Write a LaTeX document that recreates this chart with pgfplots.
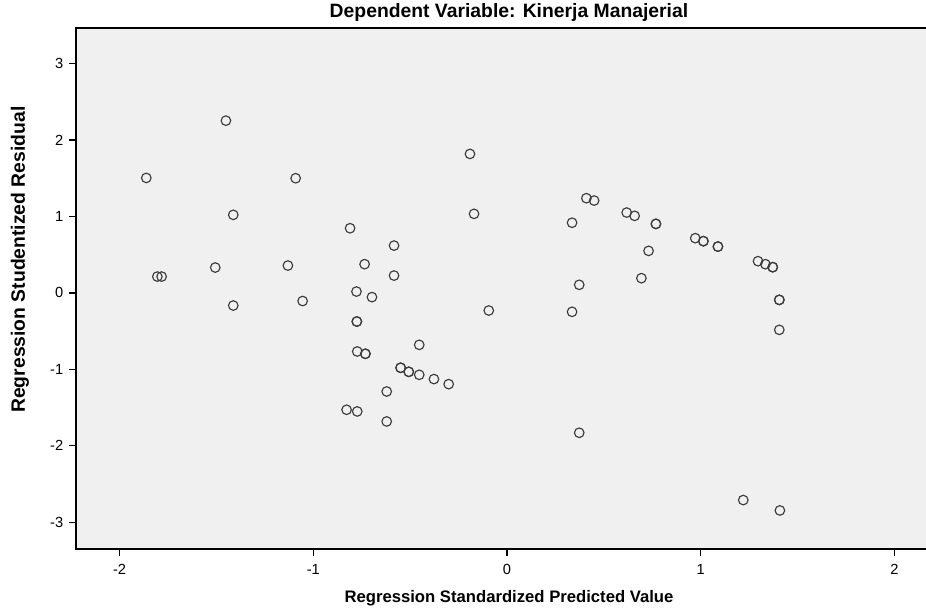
\documentclass[border=0pt]{standalone}
\usepackage{fontspec}
\setmainfont{Liberation Sans}
\usepackage{pgfplots}
\pgfplotsset{compat=1.18}
\definecolor{bg}{HTML}{F0F0F0}
\definecolor{mk}{HTML}{3A3A3A}
\begin{document}
\begin{tikzpicture}
\useasboundingbox (-57pt,-48pt) rectangle (637.5pt,411.75pt);
\begin{axis}[
  at={(0,0)}, anchor=south west,
  scale only axis, width=640pt, height=390.75pt,
  xmin=-2.225, xmax=2.1805, ymin=-3.35, ymax=3.464,
  axis background/.style={fill=bg},
  axis line style={black, line width=0.9pt},
  xtick={-2,-1,0,1,2}, ytick={-3,-2,-1,0,1,2,3},
  xtick pos=bottom, ytick pos=left,
  tick align=outside, major tick length=5pt,
  tick style={black, line width=1pt},
  /pgf/number format/assume math mode=true,
  ticklabel style={font=\fontsize{11}{13}\selectfont},
  xticklabel style={yshift=-3pt},
  yticklabel style={xshift=-1pt},
  clip=false,
]
\addplot[only marks, mark=o, mark size=3.6pt, mark options={draw=mk, line width=0.85pt}] coordinates {
(-1.862,1.503) (-1.805,0.213) (-1.783,0.213) (-1.506,0.331) (-1.451,2.252)
(-1.413,1.020) (-1.413,-0.166) (-1.131,0.357) (-1.091,1.499) (-1.055,-0.107)
(-0.828,-1.529) (-0.810,0.845) (-0.777,0.017) (-0.775,-0.375) (-0.775,-0.375)
(-0.773,-0.767) (-0.773,-1.551) (-0.735,0.375) (-0.731,-0.797) (-0.731,-0.797)
(-0.697,-0.056) (-0.621,-1.290) (-0.621,-1.682) (-0.583,0.618) (-0.583,0.226)
(-0.549,-0.980) (-0.549,-0.980) (-0.507,-1.033) (-0.507,-1.033) (-0.453,-0.680)
(-0.453,-1.072) (-0.377,-1.128) (-0.301,-1.194) (-0.191,1.817) (-0.170,1.033)
(-0.094,-0.231) (0.336,0.917) (0.336,-0.248) (0.373,0.105) (0.373,-1.830)
(0.410,1.238) (0.450,1.207) (0.618,1.050) (0.659,1.007) (0.694,0.192)
(0.731,0.549) (0.769,0.902) (0.769,0.902) (0.972,0.715) (1.014,0.676)
(1.014,0.676) (1.089,0.605) (1.089,0.605) (1.220,-2.710) (1.296,0.414)
(1.334,0.375) (1.372,0.336) (1.372,0.336) (1.406,-0.092) (1.406,-0.092)
(1.409,-2.846) (1.406,-0.484)
};
\end{axis}
\node[font=\bfseries\fontsize{14.5}{17}\selectfont] at (324.75pt,402.5pt) {Dependent Variable: Kinerja Manajerial};
\node[font=\bfseries\fontsize{12.5}{15}\selectfont] at (324.75pt,-36.75pt) {Regression Standardized Predicted Value};
\node[font=\bfseries\fontsize{14.5}{17}\selectfont, rotate=90] at (-42pt,217pt) {Regression Studentized Residual};
\end{tikzpicture}
\end{document}
